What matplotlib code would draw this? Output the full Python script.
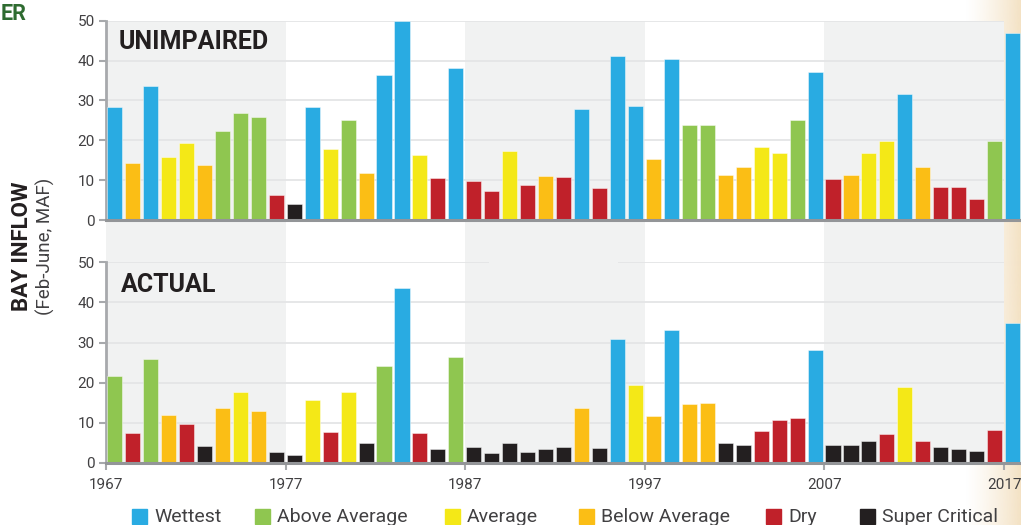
import numpy as np
import matplotlib.pyplot as plt
from matplotlib.colors import to_rgb
from matplotlib.patches import Rectangle

plt.rcParams['font.family'] = 'Roboto'

years = np.arange(1967, 2018)

labels = ["Wettest", "Above Average", "Average", "Below Average", "Dry", "Super Critical"]
codes = ["W", "AA", "A", "BA", "D", "SC"]
colors = {"W": "#29abe2", "AA": "#8fc650", "A": "#f4e817",
          "BA": "#fbbe15", "D": "#c0212a", "SC": "#231f20"}

# Feb-June bay inflow, million acre-feet
unimpaired = [28.3, 14.4, 33.6, 15.9, 19.4, 13.7, 22.3, 26.8, 25.8, 6.2, 3.9,
              28.3, 17.7, 25.2, 11.7, 36.3, 50.0, 16.4, 10.6, 38.2, 9.7,
              7.3, 17.2, 8.8, 11.1, 10.8, 27.8, 8.1, 41.2, 28.6, 15.2,
              40.4, 23.8, 23.8, 11.4, 13.2, 18.2, 16.9, 25.0, 37.2, 10.2,
              11.4, 16.9, 19.7, 31.6, 13.2, 8.2, 8.2, 5.3, 19.7, 46.8]
unimpaired_type = ("W BA W A A BA AA AA AA D SC "
                   "W A AA BA W W A D W D "
                   "D A D BA D W D W W BA "
                   "W AA AA BA BA A A AA W D "
                   "BA A A W BA D D D AA W").split()

actual = [21.6, 7.4, 26.0, 12.0, 9.7, 4.3, 13.6, 17.7, 13.0, 2.7, 2.0,
          15.7, 7.7, 17.6, 5.0, 24.2, 43.6, 7.4, 3.6, 26.5, 4.1,
          2.5, 5.0, 2.7, 3.6, 4.1, 13.6, 3.8, 31.0, 19.5, 11.6,
          33.2, 14.6, 14.9, 5.1, 4.6, 8.0, 10.8, 11.1, 28.1, 4.6,
          4.6, 5.6, 7.2, 19.0, 5.6, 4.1, 3.4, 3.1, 8.3, 35.0]
actual_type = ("AA D AA BA D SC BA A BA SC SC "
               "A D A SC AA W D SC AA SC "
               "SC SC SC SC SC BA SC W A BA "
               "W BA BA SC SC D D D W SC "
               "SC SC D A D SC SC SC D W").split()

W, H = 1021, 525
fig = plt.figure(figsize=(W / 100, H / 100), dpi=100)


def fx(px):
    return px / W


def fy(py):
    return 1 - py / H


# page-edge tint on the right
tan = to_rgb("#f4e2c4")
grad = np.zeros((1, 256, 4))
grad[..., :3] = tan
grad[..., 3] = np.linspace(0, 1, 256) ** 1.3
gax = fig.add_axes([fx(965), 0, fx(W - 965), 1], zorder=0)
gax.imshow(grad, aspect='auto', extent=[0, 1, 0, 1])
gax.axis('off')

# decade shading behind both panels
bg = fig.add_axes([fx(106), fy(463), fx(1004 - 106), (463 - 20.7) / H], zorder=1)
bg.set_facecolor('white')
bg.set_xlim(1967, 2017)
bg.set_xticks([])
bg.set_yticks([])
for s in bg.spines.values():
    s.set_visible(False)
for start in [1967, 1987, 2007]:
    bg.axvspan(start, start + 10, color='#f1f2f2', lw=0)

xmax = 1967 + (W - 106) / 17.96


def panel(bottom_px, top_px, values, types, title, title_xy):
    ax = fig.add_axes([fx(106), fy(bottom_px), fx(W - 106), (bottom_px - top_px) / H], zorder=2)
    ax.patch.set_alpha(0)
    ax.set_xlim(1967, xmax)
    ax.set_ylim(0, 50)
    ax.bar(years + 0.06, values, width=0.84, align='edge',
           color=[colors[t] for t in types],
           edgecolor=(1, 1, 1, 0.45), linewidth=0.7, zorder=3)
    for s in ['top', 'right']:
        ax.spines[s].set_visible(False)
    ax.spines['left'].set_color('#a7a9ac')
    ax.spines['left'].set_linewidth(2)
    ax.spines['bottom'].set_color('#939598')
    ax.spines['bottom'].set_linewidth(2.2)
    ax.spines['bottom'].set_zorder(4)
    ax.set_yticks(range(0, 51, 10))
    ax.tick_params(axis='y', length=5, width=1.5, color='#a7a9ac', pad=3,
                   labelsize=11, labelcolor='#414042')
    fig.text(fx(title_xy[0]), fy(title_xy[1]), title, fontsize=18,
             fontweight='bold', color='#231f20', ha='left', va='baseline')
    return ax


top = panel(220, 20.7, unimpaired, unimpaired_type, "UNIMPAIRED", (119, 49))
top.hlines(range(10, 51, 10), 1967, 2017, color='#e4e5e6', lw=1.3, zorder=1)
top.tick_params(axis='x', length=0, labelbottom=False)

bot = panel(463, 262.3, actual, actual_type, "ACTUAL", (121, 291.7))
bot.hlines(range(10, 41, 10), 1967, 2017, color='#e4e5e6', lw=1.3, zorder=1)
bot.hlines([50, 50], [1967, 1995.5], [1988.3, 2017], color='#e4e5e6', lw=1.3, zorder=1)
bot.set_xticks(range(1967, 2018, 10))
bot.tick_params(axis='x', length=5, width=1.5, color='#a7a9ac', pad=6,
                labelsize=11, labelcolor='#414042')

# axis title
fig.text(fx(22), fy(246), "BAY INFLOW", rotation=90, fontsize=16,
         fontweight='bold', color='#231f20', ha='center', va='center')
fig.text(fx(45), fy(246), "(Feb-June, MAF)", rotation=90, fontsize=13.5,
         color='#414042', ha='center', va='center')

# cropped heading fragment
fig.text(fx(0.5), fy(19.5), "ER", fontsize=15.5, fontweight='bold',
         color='#2e6b30', ha='left', va='baseline')

# legend
legend_x = [132, 255, 445, 579, 766, 860]
for lx, code, lab in zip(legend_x, codes, labels):
    fig.patches.append(Rectangle((fx(lx), fy(524)), fx(15), 15 / H,
                                 transform=fig.transFigure, color=colors[code],
                                 zorder=5))
    fig.text(fx(lx + 22), fy(522.5), lab, fontsize=14, color='#414042',
             ha='left', va='baseline')

fig.savefig('out.png', dpi=100)
